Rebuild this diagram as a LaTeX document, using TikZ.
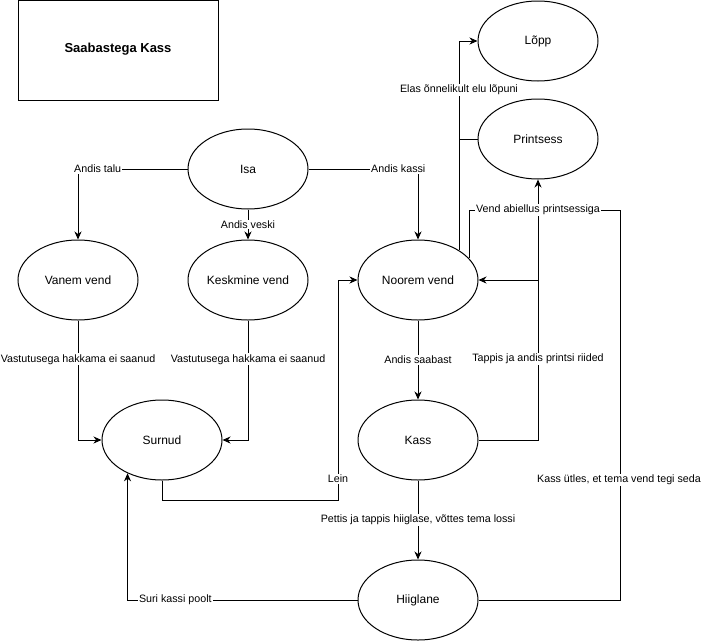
\documentclass[tikz,border=0pt]{standalone}
\usepackage{fontspec}
\setmainfont{Liberation Sans}
\usetikzlibrary{shapes.geometric,arrows.meta}
\begin{document}
\begin{tikzpicture}[x=1pt,y=-1pt,
  state/.style={ellipse,draw,line width=1pt,minimum width=120pt,minimum height=80pt,
    inner sep=0pt,font=\fontsize{12}{14}\selectfont},
  link/.style={line width=1pt},
  arr/.style={link,-{Stealth[length=8pt,width=7pt,inset=2.5pt]}},
  lbl/.style={fill=white,inner sep=1pt,font=\fontsize{10.7}{13}\selectfont},
  titlebox/.style={draw,line width=1pt,minimum width=200pt,minimum height=100pt,
    inner sep=0pt,font=\bfseries\fontsize{13}{15}\selectfont}
]
\useasboundingbox (0,0) rectangle (701,640);

% title
\node[titlebox] (title) at (118,50) {\raisebox{5pt}{Saabastega Kass}};

% characters and states
\node[state] (isa)       at (248,169) {Isa};
\node[state] (vanem)     at (78,280)  {Vanem vend};
\node[state] (kesk)      at (248,280) {Keskmine vend};
\node[state] (noorem)    at (418,280) {Noorem vend};
\node[state] (surnud)    at (162,440) {Surnud};
\node[state] (kass)      at (418,440) {Kass};
\node[state] (hiiglane)  at (418,600) {Hiiglane};
\node[state] (lopp)      at (538,41)  {Lõpp};
\node[state] (printsess) at (538,139) {Printsess};

% bend points
\coordinate (kc) at (noorem.east -| printsess.south);
\coordinate (jn) at (538,210);
\coordinate (hc) at (620,210);
\coordinate (lc) at (338,500);

% inheritance
\draw[arr] (isa.west) -| node[lbl,pos=0.41]{Andis talu} (vanem.north);
\draw[arr] (isa.south) -- node[lbl]{Andis veski} (kesk.north);
\draw[arr] (isa.east) -| node[lbl,pos=0.41]{Andis kassi} (noorem.north);

% the elder brothers fail
\draw[arr] (vanem.south) |- node[lbl,pos=0.1625]{Vastutusega hakkama ei saanud} (surnud.west);
\draw[arr] (kesk.south) |- node[lbl,pos=0.1625]{Vastutusega hakkama ei saanud} (surnud.east);

% grief
\draw[arr] (surnud.south) |- (lc) |- node[lbl,pos=0.048]{Lein} (noorem.west);

% the cat
\draw[arr] (noorem.south) -- node[lbl]{Andis saabast} (kass.north);
\draw[arr] (kass.east) -| node[lbl,pos=0.753]{Tappis ja andis printsi riided} (kc) -- (noorem.east);
\draw[arr] (kass.south) -- node[lbl]{Pettis ja tappis hiiglase, võttes tema lossi} (hiiglane.north);
\draw[arr] (hiiglane.west) -| node[lbl,pos=0.396]{Suri kassi poolt} (surnud.224);

% wedding
\draw[link] (noorem.23.85) |- (jn);
\draw[link] (hiiglane.east) -| node[lbl,pos=0.654,xshift=-1pt]{Kass ütles, et tema vend tegi seda} (hc) -- (jn);
\draw[arr] (kc) -- node[lbl,pos=0.7]{Vend abiellus printsessiga} (printsess.south);

% happy ending
\draw[link] (printsess.west) -- (printsess.west -| noorem.36.7);
\draw[arr] (noorem.36.7) |- node[lbl,pos=0.383]{Elas õnnelikult elu lõpuni} (lopp.west);
\end{tikzpicture}
\end{document}
